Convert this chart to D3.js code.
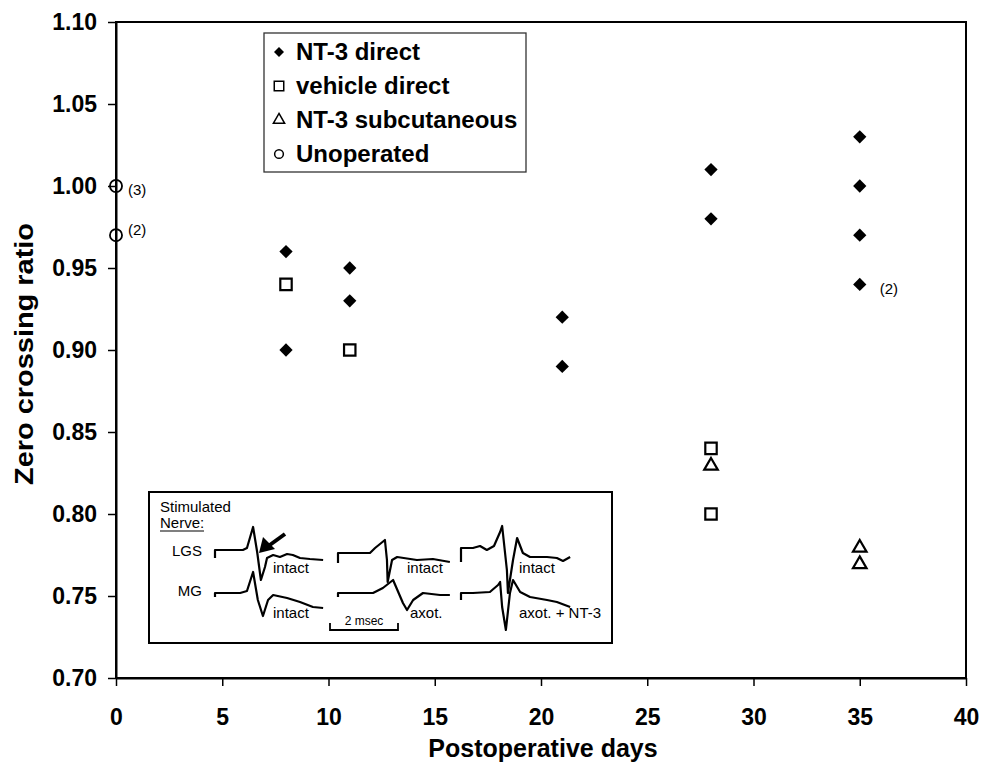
<!DOCTYPE html>
<html>
<head>
<meta charset="utf-8">
<script src="https://cdn.jsdelivr.net/npm/d3@7"></script>
<style>
  body { margin: 0; background: #fff; }
  svg { display: block; font-family: "Liberation Sans", Arial, sans-serif; }
</style>
</head>
<body>
<script>
// data
var ntDirectDays   = [8, 8, 11, 11, 21, 21, 28, 28, 35, 35, 35, 35];
var ntDirectRatio  = [0.96, 0.90, 0.95, 0.93, 0.92, 0.89, 1.01, 0.98, 1.03, 1.00, 0.97, 0.94];
var vehicleDays    = [8, 11, 28, 28];
var vehicleRatio   = [0.94, 0.90, 0.84, 0.80];
var subcutDays     = [28, 35, 35];
var subcutRatio    = [0.83, 0.78, 0.77];
var unopDays       = [0, 0];
var unopRatio      = [1.00, 0.97];
// (n) labels next to some points
var notes = [
  {day: 0, ratio: 1.00, text: "(3)", dy: 9},
  {day: 0, ratio: 0.97, text: "(2)", dy: 0},
  {day: 35, ratio: 0.94, text: "(2)", dy: 10}
];
var xTicks = [0, 5, 10, 15, 20, 25, 30, 35, 40];
var yTicks = [0.70, 0.75, 0.80, 0.85, 0.90, 0.95, 1.00, 1.05, 1.10];
var legendNames = ["NT-3 direct", "vehicle direct", "NT-3 subcutaneous", "Unoperated"];

// inset traces: [ms, amplitude] for each panel, LGS and MG rows
var lgsTraces = [
  [[0,-8],[0,0],[0.82,0],[0.94,2],[1.12,23],[1.24,-2],[1.35,-30],[1.47,-17],[1.53,-8],[1.71,-5],[1.91,-7],[2.12,-4],[2.29,-5],[2.5,-8],[2.79,-9],[3.18,-10]],
  [[0,-13],[0,-3],[0.94,-3],[1.09,2],[1.38,10],[1.44,-10],[1.46,-32],[1.59,-10],[1.74,-7],[2.32,-10],[2.79,-9],[3.29,-12]],
  [[0,-12],[0,2],[0.35,2],[0.56,4],[0.76,0],[0.97,4],[1.15,18],[1.21,24],[1.35,-20],[1.38,-43],[1.53,-10],[1.65,12],[1.82,-3],[2.03,-7],[2.53,-7],[2.82,-8],[3.0,-11],[3.21,-7]]
];
var mgTraces = [
  [[0,-4],[0,0],[0.74,0],[0.94,2],[1.12,21],[1.26,-7],[1.41,-23],[1.56,-7],[1.71,-2],[2.12,-5],[2.5,-9],[2.88,-14],[3.18,-15]],
  [[0,-4],[0,0],[1.03,0],[1.32,5],[1.62,13],[1.91,-10],[2.03,-17],[2.21,-7],[2.5,0],[3.0,-2],[3.29,-2]],
  [[0,-7],[0,0],[0.35,0],[0.85,1],[1.09,8],[1.15,11],[1.21,-14],[1.32,-37],[1.44,0],[1.53,13],[1.74,1],[2.03,-4],[2.53,-7],[2.82,-9],[3.21,-14]]
];
var lgsLabels = ["intact", "intact", "intact"];
var mgLabels  = ["intact", "axot.", "axot. + NT-3"];

var width = 996, height = 772;
var margin = {left: 116, right: 30, top: 22, bottom: 94};

var svg = d3.select("body").append("svg")
  .attr("width", width)
  .attr("height", height);

var x = d3.scaleLinear().domain([0, 40]).range([margin.left, width - margin.right]);
var y = d3.scaleLinear().domain([0.70, 1.10]).range([height - margin.bottom, margin.top]);

// frame
svg.append("rect")
  .attr("x", x(0)).attr("y", y(1.10))
  .attr("width", x(40) - x(0)).attr("height", y(0.70) - y(1.10))
  .attr("fill", "none").attr("stroke", "#000").attr("stroke-width", 2);

var xAxis = svg.append("g")
  .attr("transform", "translate(0," + y(0.70) + ")")
  .call(d3.axisBottom(x).tickValues(xTicks).tickSize(8).tickSizeOuter(0).tickPadding(23).tickFormat(d3.format("d")));
var yAxis = svg.append("g")
  .attr("transform", "translate(" + x(0) + ",0)")
  .call(d3.axisLeft(y).tickValues(yTicks).tickSize(8).tickSizeOuter(0).tickPadding(11).tickFormat(d3.format(".2f")));

[xAxis, yAxis].forEach(function(g){
  g.select(".domain").attr("stroke-width", 2);
  g.selectAll(".tick line").attr("stroke-width", 1.5);
  g.selectAll(".tick text")
    .attr("font-size", 23).attr("font-weight", "bold")
    .attr("font-family", "Liberation Sans, Arial, sans-serif").attr("fill", "#000");
});

svg.append("text")
  .attr("x", x(20) + 2).attr("y", 757)
  .attr("text-anchor", "middle")
  .attr("font-size", 25).attr("font-weight", "bold")
  .text("Postoperative days");

svg.append("text")
  .attr("transform", "translate(33," + 354 + ") rotate(-90)")
  .attr("text-anchor", "middle")
  .attr("font-size", 25).attr("font-weight", "bold")
  .attr("textLength", 262).attr("lengthAdjust", "spacingAndGlyphs")
  .text("Zero crossing ratio");

// markers
var diamond = d3.symbol().type(d3.symbolSquare).size(88)();
var square = d3.symbol().type(d3.symbolSquare).size(130)();
var triangle = d3.symbol().type(d3.symbolTriangle).size(80)();
var circle = d3.symbol().type(d3.symbolCircle).size(115)();

function zip(a, b) { return a.map(function(v, i){ return [v, b[i]]; }); }

svg.append("g").selectAll("path")
  .data(zip(unopDays, unopRatio)).enter().append("path")
  .attr("d", circle)
  .attr("transform", function(d){ return "translate(" + x(d[0]) + "," + y(d[1]) + ")"; })
  .attr("fill", "none").attr("stroke", "#000").attr("stroke-width", 1.8);

svg.append("g").selectAll("path")
  .data(zip(ntDirectDays, ntDirectRatio)).enter().append("path")
  .attr("d", diamond)
  .attr("transform", function(d){ return "translate(" + x(d[0]) + "," + y(d[1]) + ") rotate(45)"; })
  .attr("fill", "#000");

svg.append("g").selectAll("path")
  .data(zip(vehicleDays, vehicleRatio)).enter().append("path")
  .attr("d", square)
  .attr("transform", function(d){ return "translate(" + x(d[0]) + "," + y(d[1]) + ")"; })
  .attr("fill", "none").attr("stroke", "#000").attr("stroke-width", 2.2);

svg.append("g").selectAll("path")
  .data(zip(subcutDays, subcutRatio)).enter().append("path")
  .attr("d", triangle)
  .attr("transform", function(d){ return "translate(" + x(d[0]) + "," + (y(d[1]) + 1) + ")"; })
  .attr("fill", "none").attr("stroke", "#000").attr("stroke-width", 2.2);

svg.append("g").selectAll("text")
  .data(notes).enter().append("text")
  .attr("x", function(d){ return x(d.day) + (d.day === 0 ? 12 : 20); })
  .attr("y", function(d){ return y(d.ratio) + d.dy; })
  .attr("font-size", 15)
  .text(function(d){ return d.text; });

// legend
var legend = svg.append("g").attr("transform", "translate(264,33)");
legend.append("rect")
  .attr("width", 262).attr("height", 139)
  .attr("fill", "#fff").attr("stroke", "#333").attr("stroke-width", 1.3);

var legendMarks = [
  d3.symbol().type(d3.symbolSquare).size(50)(),
  d3.symbol().type(d3.symbolSquare).size(90)(),
  d3.symbol().type(d3.symbolTriangle).size(55)(),
  d3.symbol().type(d3.symbolCircle).size(60)()
];
var rows = legend.selectAll("g.row")
  .data(legendNames).enter().append("g")
  .attr("class", "row")
  .attr("transform", function(d, i){ return "translate(0," + (19 + i * 34) + ")"; });
rows.append("path")
  .attr("d", function(d, i){ return legendMarks[i]; })
  .attr("transform", function(d, i){ return "translate(15,0)" + (i === 0 ? " rotate(45)" : ""); })
  .attr("fill", function(d, i){ return i === 0 ? "#000" : "none"; })
  .attr("stroke", "#000")
  .attr("stroke-width", function(d, i){ return i === 0 ? 0 : 1.5; });
rows.append("text")
  .attr("x", 32).attr("y", 8)
  .attr("font-size", 24).attr("font-weight", "bold")
  .text(function(d){ return d; });

// inset with example recordings
var inset = svg.append("g").attr("transform", "translate(149,492)");
inset.append("rect")
  .attr("width", 463).attr("height", 151)
  .attr("fill", "#fff").attr("stroke", "#000").attr("stroke-width", 2);

inset.append("text").attr("x", 11).attr("y", 20).attr("font-size", 15).text("Stimulated");
inset.append("text").attr("x", 11).attr("y", 36).attr("font-size", 15).text("Nerve:");
inset.append("line").attr("x1", 11).attr("x2", 55).attr("y1", 39).attr("y2", 39)
  .attr("stroke", "#000").attr("stroke-width", 1.2);
inset.append("text").attr("x", 53).attr("y", 64).attr("text-anchor", "end").attr("font-size", 15).text("LGS");
inset.append("text").attr("x", 53).attr("y", 104).attr("text-anchor", "end").attr("font-size", 15).text("MG");

var t = d3.scaleLinear().domain([0, 1]).range([0, 34]);
var amp = d3.scaleLinear().domain([-1, 1]).range([1, -1]);
var panelX = [66, 189, 312];
var line = d3.line().x(function(d){ return t(d[0]); }).y(function(d){ return amp(d[1]); });

[lgsTraces, mgTraces].forEach(function(traces, row){
  var base = row === 0 ? 58 : 101;
  traces.forEach(function(tr, i){
    inset.append("path")
      .attr("transform", "translate(" + panelX[i] + "," + base + ")")
      .attr("d", line(tr))
      .attr("fill", "none").attr("stroke", "#000").attr("stroke-width", 2.2)
      .attr("stroke-linejoin", "round");
  });
});

var labelX = [124, 258, 370];
lgsLabels.forEach(function(s, i){
  inset.append("text").attr("x", labelX[i]).attr("y", 81).attr("font-size", 15).text(s);
});
mgLabels.forEach(function(s, i){
  inset.append("text").attr("x", labelX[i] + (i === 1 ? 3 : 0)).attr("y", 126).attr("font-size", 15).text(s);
});

// 2 msec scale bar
var bar = inset.append("g").attr("transform", "translate(181,138)");
bar.append("path")
  .attr("d", "M0,-7V0H" + t(2) + "V-7")
  .attr("fill", "none").attr("stroke", "#000").attr("stroke-width", 1.8);
bar.append("text").attr("x", t(1)).attr("y", -5).attr("text-anchor", "middle")
  .attr("font-size", 12).text("2 msec");

// arrow onto the LGS trace
inset.append("line")
  .attr("x1", 136).attr("y1", 42).attr("x2", 118).attr("y2", 55)
  .attr("stroke", "#000").attr("stroke-width", 4);
inset.append("path")
  .attr("d", "M110,61L114,45L126,57Z")
  .attr("fill", "#000");
</script>
</body>
</html>
